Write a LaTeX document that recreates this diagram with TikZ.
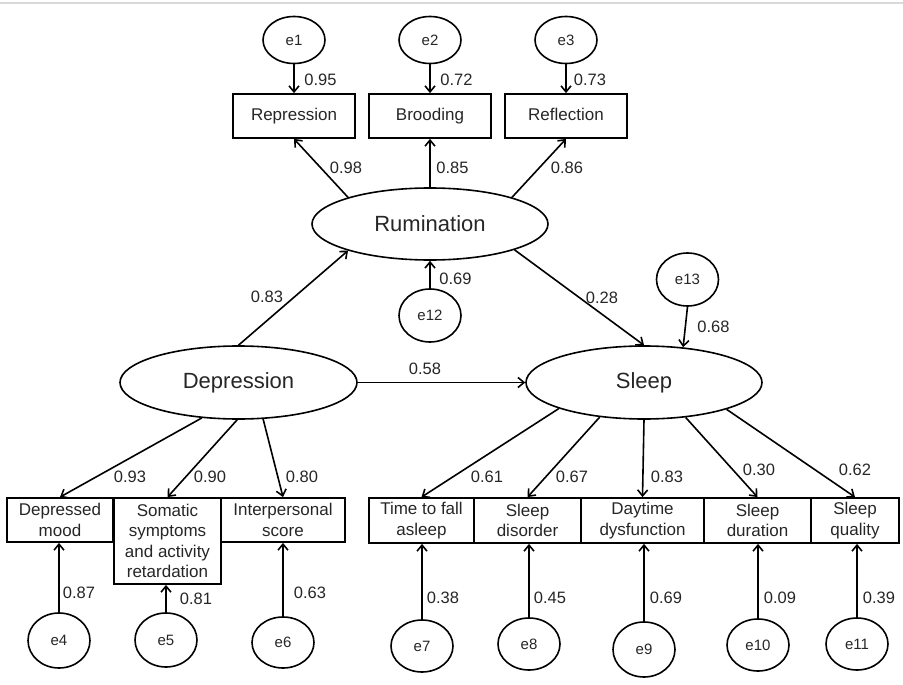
\documentclass[tikz,border=0pt]{standalone}
\usepackage{fontspec}
\setmainfont{Liberation Sans}
\usetikzlibrary{shapes.geometric,arrows.meta}
\newcommand{\fsbox}{\fontsize{17pt}{20.5pt}\selectfont}
\newcommand{\fslat}{\fontsize{22pt}{26pt}\selectfont}
\newcommand{\fserr}{\fontsize{15pt}{18pt}\selectfont}
\newcommand{\fsnum}{\fontsize{16.5pt}{19pt}\selectfont}
\tikzset{
  obs/.style={draw, line width=1.8pt, rectangle, inner sep=0pt, align=center, font=\fsbox, text=black!85},
  oneline/.style={text height=12.5pt, text depth=3.5pt},
  lat/.style={draw, ellipse, line width=1.6pt, inner sep=0pt, font=\fslat, text=black!85},
  err/.style={draw, ellipse, line width=1.6pt, inner sep=0pt, minimum width=62pt, minimum height=52pt, font=\fserr, text=black!85},
  arr/.style={-{Straight Barb[length=6pt,width=10pt]}, line width=1.6pt},
  lbl/.style={font=\fsnum, inner sep=0pt, text=black!85},
}
\begin{document}
\begin{tikzpicture}[x=1pt,y=-1pt]
\useasboundingbox (0,0) rectangle (903,685);
\draw[black!15, line width=2pt] (0,3) -- (903,3);

% latent variables
\node[lat, minimum width=236pt, minimum height=72pt] (ru) at (430,224) {Rumination};
\node[lat, minimum width=237pt, minimum height=73pt] (dep) at (238.5,382.5) {Depression};
\node[lat, minimum width=236pt, minimum height=73pt] (slp) at (644,382.5) {Sleep};

% top indicators
\node[obs, oneline, minimum width=122pt, minimum height=44pt] (rep) at (294,116) {Repression};
\node[obs, oneline, minimum width=122pt, minimum height=44pt] (bro) at (430,116) {Brooding};
\node[obs, oneline, minimum width=122pt, minimum height=44pt] (ref) at (566,116) {Reflection};

% bottom-left indicators
\node[obs, minimum width=106pt, minimum height=44pt] (dm) at (60,520) {Depressed\\mood};
\node[obs, minimum width=107pt, minimum height=86pt] (som) at (167.5,541) {Somatic\\symptoms\\and activity\\retardation};
\node[obs, minimum width=124pt, minimum height=44pt] (ip) at (283,520) {Interpersonal\\score};

% bottom-right indicators
\node[obs, minimum width=105pt, minimum height=45pt] (tf) at (421.5,520.5) {Time to fall\\asleep};
\node[obs, minimum width=107pt, minimum height=45pt] (sd) at (527.5,520.5) {Sleep\\disorder};
\node[obs, minimum width=123pt, minimum height=45pt] (dd) at (642.5,520.5) {Daytime\\dysfunction};
\node[obs, minimum width=107pt, minimum height=45pt] (sdu) at (757.5,520.5) {Sleep\\duration};
\node[obs, minimum width=88pt, minimum height=45pt] (sq) at (855,520.5) {Sleep\\quality};

% error terms
\node[err, minimum height=47pt] (e1) at (294,40) {e1};
\node[err, minimum height=47pt] (e2) at (430,40) {e2};
\node[err, minimum height=47pt] (e3) at (566,40) {e3};
\node[err, minimum height=53pt] (e12) at (430,315.5) {e12};
\node[err, minimum height=53pt] (e13) at (687.5,279.5) {e13};
\node[err, minimum height=55pt] (e4) at (59,640.5) {e4};
\node[err, minimum height=54pt] (e5) at (166,640) {e5};
\node[err, minimum height=51pt] (e6) at (283,642.5) {e6};
\node[err] (e7) at (422,646) {e7};
\node[err] (e8) at (529,644) {e8};
\node[err, minimum height=55pt] (e9) at (644,649.5) {e9};
\node[err] (e10) at (758,645) {e10};
\node[err] (e11) at (857,644) {e11};

% structural paths
\draw[arr] (dep.90) -- (ru.198);
\draw[arr] (ru.343) -- (slp.north);
\draw[arr] (dep.east) -- (slp.west);
\draw[arr] (e12.north) -- (ru.south);
\draw[arr] (e13.south) -- (slp.42);

% measurement paths
\draw[arr] (ru.162) -- (rep.south);
\draw[arr] (ru.north) -- (bro.south);
\draw[arr] (ru.18) -- (ref.south);
\draw[arr] (dep.224) -- (dm.north);
\draw[arr] (dep.268) -- (som.north);
\draw[arr] (dep.304) -- (ip.north);
\draw[arr] (slp.197.5) -- (tf.north);
\draw[arr] (slp.218) -- (sd.north);
\draw[arr] (slp.south) -- (dd.north);
\draw[arr] (slp.320.5) -- (sdu.north);
\draw[arr] (slp.342.5) -- (sq.north);

% error paths
\draw[arr] (e1.south) -- (e1.south |- rep.north);
\draw[arr] (e2.south) -- (e2.south |- bro.north);
\draw[arr] (e3.south) -- (e3.south |- ref.north);
\draw[arr] (e4.north) -- (e4.north |- dm.south);
\draw[arr] (e5.north) -- (e5.north |- som.south);
\draw[arr] (e6.north) -- (e6.north |- ip.south);
\draw[arr] (e7.north) -- (e7.north |- tf.south);
\draw[arr] (e8.north) -- (e8.north |- sd.south);
\draw[arr] (e9.north) -- (e9.north |- dd.south);
\draw[arr] (e10.north) -- (e10.north |- sdu.south);
\draw[arr] (e11.north) -- (e11.north |- sq.south);

% labels
\node[lbl] (l1) at (320.5,80) {0.95};
\node[lbl] (l2) at (456.5,80) {0.72};
\node[lbl] (l3) at (590,80) {0.73};
\node[lbl] (l4) at (346,168) {0.98};
\node[lbl] (l5) at (452.5,168) {0.85};
\node[lbl] (l6) at (567,168) {0.86};
\node[lbl] (l7) at (267,297) {0.83};
\node[lbl] (l8) at (455.5,279) {0.69};
\node[lbl] (l9) at (602,298) {0.28};
\node[lbl] (l10) at (713.5,327) {0.68};
\node[lbl] (l11) at (425,369) {0.58};
\node[lbl] (l12) at (130,477) {0.93};
\node[lbl] (l13) at (210,477) {0.90};
\node[lbl] (l14) at (302,477) {0.80};
\node[lbl] (l15) at (487,477) {0.61};
\node[lbl] (l16) at (572,477) {0.67};
\node[lbl] (l17) at (667,477) {0.83};
\node[lbl] (l18) at (759,470) {0.30};
\node[lbl] (l19) at (855,470) {0.62};
\node[lbl] (l20) at (79,593) {0.87};
\node[lbl] (l21) at (196,599) {0.81};
\node[lbl] (l22) at (310,593) {0.63};
\node[lbl] (l23) at (443,598) {0.38};
\node[lbl] (l24) at (550,598) {0.45};
\node[lbl] (l25) at (666,598) {0.69};
\node[lbl] (l26) at (780,598) {0.09};
\node[lbl] (l27) at (879,598) {0.39};
\end{tikzpicture}
\end{document}
